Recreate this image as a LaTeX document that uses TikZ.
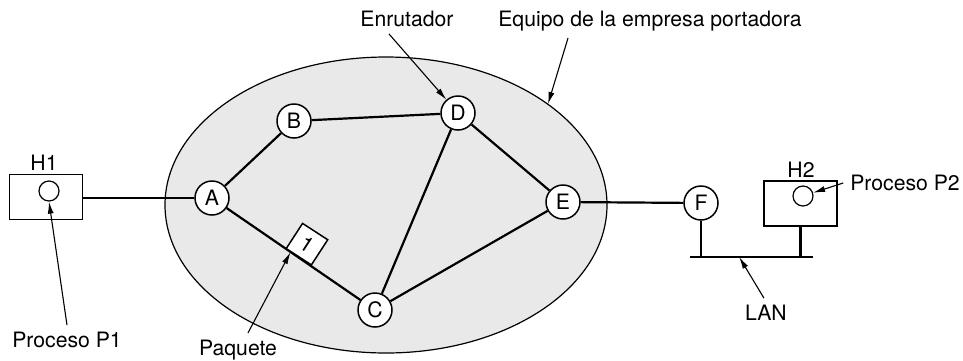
\documentclass[tikz,border=0pt]{standalone}
\usepackage{fontspec}
\setmainfont{TeX Gyre Heros}
\usetikzlibrary{arrows.meta,calc}
\begin{document}
\begin{tikzpicture}[x=0.5pt, y=-0.5pt, every node/.style={font=\fontsize{10.6}{12}\selectfont},
    router/.style={circle, draw, line width=0.75pt, fill=white, minimum size=17pt, inner sep=0pt},
    host/.style={draw, line width=0.75pt, minimum width=36.5pt, minimum height=22.5pt, inner sep=0pt},
    proc/.style={circle, draw, line width=0.6pt, minimum size=10pt, inner sep=0pt},
    packet/.style={draw, line width=0.75pt, fill=white, minimum size=15pt, inner sep=0pt},
    link/.style={line width=1.1pt},
    pointer/.style={line width=0.55pt, -{Latex[length=6pt,width=3pt]}}]
    \useasboundingbox (0,0) rectangle (963,360);

    % red de la empresa portadora
    \draw[fill=gray!17, line width=0.6pt] (386,205) ellipse [x radius=221, y radius=148];
    \coordinate (rim) at (548,104);

    \node[router] (A) at (212,198) {A};
    \node[router] (B) at (294,121) {B};
    \node[router] (D) at (458,113) {D};
    \node[router] (E) at (563,202) {E};
    \node[router] (C) at (375,310) {C};
    \node[router] (F) at (701,203) {F};

    % hosts
    \node[host] (h1) at (46,197) {};
    \node[proc] (p1) at (49,191) {};
    \node (h1lab) at (44,163) {H1};
    \node[host] (h2) at (800.5,203.5) {};
    \node[proc] (p2) at (803,196) {};
    \node (h2lab) at (801,170) {H2};

    % enlaces
    \draw[link] (A -| h1.east) -- (A);
    \draw[link] (A) -- (B);
    \draw[link] (B) -- (D);
    \draw[link] (D) -- (E);
    \draw[link] (D) -- (C);
    \draw[link] (A) -- (C);
    \draw[link] (C) -- (E);
    \draw[link] (E) -- (F);

    % LAN
    \coordinate (lanL) at (690,257);
    \coordinate (lanR) at (813,257);
    \draw[link] (lanL) -- (lanR);
    \draw[link] (F) -- (F |- lanL);
    \draw[link] (h2) -- (h2 |- lanL);

    \node[packet, rotate=-33, anchor=south] (pkt) at ($(A)!0.53!(C)$) {1};

    % etiquetas
    \node (p1lab) at (67,340) {Proceso P1};
    \draw[pointer] (p1lab.north) -- (p1.south);
    \node (pktlab) at (238,350) {Paquete};
    \draw[pointer] ([xshift=5pt]pktlab.north) -- ($(pkt.south west)!0.2!(pkt.south east)$);
    \node (rlab) at (407,19) {Enrutador};
    \draw[pointer] ([xshift=-9pt]rlab.south) -- (D);
    \node (eqlab) at (650,21) {Equipo de la empresa portadora};
    \draw[pointer] ([xshift=-41pt]eqlab.south) -- (rim);
    \node (p2lab) at (905,183) {Proceso P2};
    \draw[pointer] (p2lab.west) -- (p2);
    \node (lanlab) at (766,313) {LAN};
    \draw[pointer] ([xshift=-1pt]lanlab.north) -- ($(lanL)!0.4!(lanR)$);
\end{tikzpicture}
\end{document}
